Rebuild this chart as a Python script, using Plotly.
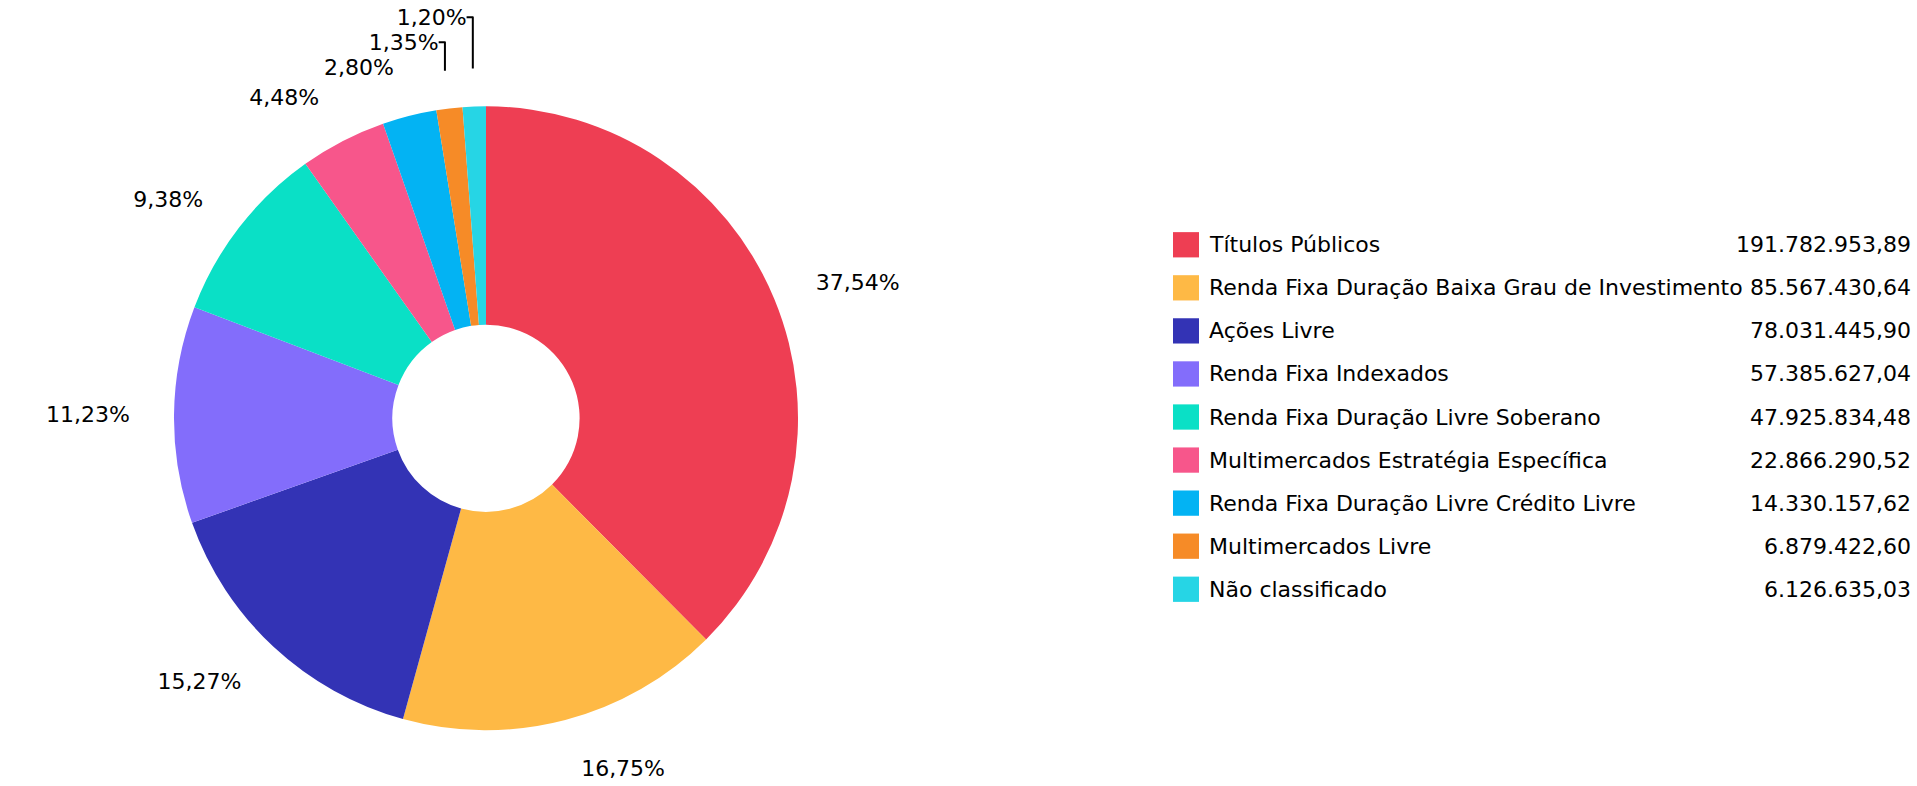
import plotly.graph_objects as go

categories = [
    "Títulos Públicos",
    "Renda Fixa Duração Baixa Grau de Investimento",
    "Ações Livre",
    "Renda Fixa Indexados",
    "Renda Fixa Duração Livre Soberano",
    "Multimercados Estratégia Específica",
    "Renda Fixa Duração Livre Crédito Livre",
    "Multimercados Livre",
    "Não classificado",
]
values = [
    191782953.89,
    85567430.64,
    78031445.90,
    57385627.04,
    47925834.48,
    22866290.52,
    14330157.62,
    6879422.60,
    6126635.03,
]
colors = [
    "#EE3E53", "#FEB945", "#3333B5", "#836DFB", "#0AE0C6",
    "#F7568B", "#03B3F3", "#F68B27", "#26D5E5",
]

FONT = "DejaVu Sans"
W, H = 1917, 786
CX, CY = 486, 419          # pie centre (px)
R_PIE, R_LABEL = 321, 360  # slice radius and label radius (px)


def br_format(v):
    s = f"{v:,.2f}"
    return s.replace(",", "X").replace(".", ",").replace("X", ".")


def dom(r):
    return dict(x=[(CX - r) / W, (CX + r) / W],
                y=[1 - (CY + r) / H, 1 - (CY - r) / H])


fig = go.Figure()
# transparent carrier pie: same slices, wider radius, only used to place the percent labels
fig.add_trace(go.Pie(
    labels=categories,
    values=values,
    sort=False,
    direction="clockwise",
    rotation=0,
    marker=dict(colors=["rgba(0,0,0,0)"] * len(values), line=dict(width=0)),
    textposition="outside",
    texttemplate="%{percent:.2%}",
    outsidetextfont=dict(family=FONT, size=22, color="#000000"),
    domain=dom(R_LABEL),
    showlegend=False,
    hoverinfo="skip",
))
# visible donut
fig.add_trace(go.Pie(
    labels=categories,
    values=values,
    sort=False,
    direction="clockwise",
    rotation=0,
    hole=0.30,
    marker=dict(colors=colors, line=dict(width=0)),
    textinfo="none",
    domain=dom(R_PIE),
    showlegend=False,
    hoverinfo="label+value+percent",
))

# custom legend (swatch, name, right-aligned value)
row0 = 240.5
step = 44.3
shapes = []
annotations = []
for i, (name, val, col) in enumerate(zip(categories, values, colors)):
    yc = row0 + step * i
    shapes.append(dict(
        type="rect", xref="paper", yref="paper",
        x0=1173 / W, x1=1199 / W,
        y0=1 - (yc + 13) / H, y1=1 - (yc - 13) / H,
        fillcolor=col, line=dict(width=0),
    ))
    annotations.append(dict(
        xref="paper", yref="paper", x=1207 / W, y=1 - yc / H,
        xanchor="left", yanchor="middle", text=name, showarrow=False,
        font=dict(family=FONT, size=22, color="#000000"),
    ))
    annotations.append(dict(
        xref="paper", yref="paper", x=1913 / W, y=1 - yc / H,
        xanchor="right", yanchor="middle", text=br_format(val), showarrow=False,
        font=dict(family=FONT, size=22, color="#000000"),
    ))

fig.update_layout(
    width=W, height=H,
    margin=dict(l=0, r=0, t=0, b=0),
    paper_bgcolor="white",
    plot_bgcolor="white",
    separators=",.",
    shapes=shapes,
    annotations=annotations,
)

fig.write_html(
    "out.html",
    config={"displayModeBar": False},
    post_script="document.body.style.margin='0';document.body.style.overflow='hidden';",
)
